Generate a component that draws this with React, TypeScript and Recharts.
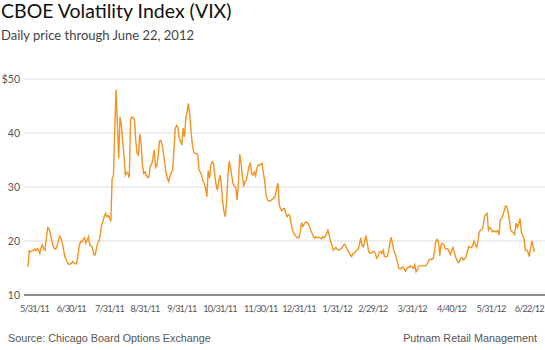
import { LineChart, Line, XAxis, YAxis, CartesianGrid } from 'recharts'

// VIX daily close, in plot order
const junAug11 = [
  15.2, 18.2, 18.0, 18.1, 18.3, 18.5, 18.2, 18.6, 18.3, 17.7, 18.8, 19.3, 18.5, 18.3, 20.5, 22.5,
  22.3, 21.4, 20.2, 19.1, 18.6, 18.5, 19.0, 19.9, 20.9, 20.6, 19.7, 18.5, 17.1, 16.6, 16.0, 15.7,
  15.7, 15.9, 16.2, 15.9, 15.8, 15.8, 17.4, 19.1, 19.9, 19.8, 20.4, 20.6, 19.6, 20.2, 20.8, 19.3,
  19.1, 18.8, 17.5, 17.4, 18.5, 19.6, 20.0, 21.2, 23.0, 23.6, 24.5, 25.1, 24.5,
]
const augSep11 = [
  24.7, 24.3, 23.6, 31.6, 32.0, 40.9, 48.0, 41.5, 35.3, 43.0, 41.5, 38.4, 35.9, 32.2, 32.7, 32.5,
  31.7, 42.4, 43.0, 42.8, 42.4, 38.4, 36.2, 35.9, 39.8, 38.1, 34.1, 32.5, 32.8, 32.2, 31.7, 31.9,
  34.0, 34.1, 35.4, 36.9, 33.6, 34.0, 35.9, 38.5, 38.6, 37.8, 36.2, 34.4, 32.5, 31.6, 31.0, 32.1,
  32.7, 33.1, 37.2, 40.9, 41.4, 41.0, 39.0, 38.4, 37.8, 40.9, 39.3, 42.7, 44.0, 45.5, 43.3, 40.2,
  37.8, 36.5, 36.2, 36.2,
]
const octNov11 = [
  36.0, 33.1, 32.8, 32.2, 31.1, 30.7, 29.8, 28.2, 33.1, 31.6, 34.1, 34.7, 34.4, 32.2, 30.4, 29.4,
  31.0, 32.2, 30.4, 27.3, 25.4, 24.5, 27.3, 32.2, 34.8, 33.5, 31.9, 30.5, 30.1, 29.8, 27.6, 31.0,
  36.1, 34.4, 31.9, 30.1, 31.1, 31.3, 32.5, 33.8, 34.5, 32.5, 32.2, 32.8, 32.1, 33.5, 34.1, 34.0,
  34.2, 34.4, 32.5, 31.0, 28.5, 27.6, 27.4, 27.4, 27.6, 27.8, 28.0, 28.4, 29.8, 30.7, 26.7, 26.0,
  25.6,
]
const decFeb12 = [
  25.9, 26.0, 25.1, 24.5, 24.9, 24.7, 23.3, 22.2, 21.4, 21.1, 20.8, 20.6, 20.6, 21.7, 23.4, 22.7,
  23.1, 23.5, 23.5, 23.2, 22.7, 22.0, 21.4, 20.8, 20.5, 20.8, 20.6, 20.7, 20.6, 20.4, 20.8, 20.6,
  20.8, 21.4, 22.0, 21.1, 19.9, 19.3, 18.3, 18.5, 18.8, 18.5, 18.3, 18.5, 18.5, 18.8, 19.3, 19.4,
  18.8, 18.3, 17.9, 17.4, 17.1, 17.7, 17.7, 18.0, 18.3, 18.5, 19.4, 20.6, 19.1, 18.9, 20.0, 21.0,
]
const marApr12 = [
  19.4, 18.0, 17.7, 17.7, 18.0, 18.1, 17.7, 16.8, 17.1, 17.9, 18.1, 17.7, 18.3, 17.1, 17.1, 17.1,
  18.0, 19.4, 20.7, 19.6, 18.3, 17.7, 16.9, 15.9, 14.9, 14.8, 15.1, 15.2, 14.8, 14.4, 14.9, 15.2,
  15.1, 15.4, 15.2, 14.9, 15.6, 14.3, 14.6, 15.4, 15.4, 15.4, 15.4, 15.4, 15.4, 15.6, 16.0, 16.5,
  16.7, 16.6, 16.8, 18.1, 19.9, 20.3, 20.0, 17.3, 19.3, 19.6, 19.4, 18.6, 18.5, 18.6, 18.1, 17.5,
]
const mayJun12 = [
  18.3, 18.8, 18.0, 17.1, 16.5, 16.0, 16.2, 16.8, 16.9, 16.5, 16.7, 17.1, 18.0, 19.0, 18.8, 18.8,
  19.1, 20.0, 19.4, 18.8, 19.9, 21.7, 22.0, 22.2, 22.7, 24.5, 24.9, 25.1, 22.0, 22.5, 22.3, 21.7,
  21.9, 21.7, 21.7, 21.9, 21.1, 23.9, 24.1, 24.8, 25.6, 26.5, 26.4, 25.3, 23.7, 22.0, 21.7, 21.5,
  21.2, 23.3, 22.5, 23.3, 24.2, 21.7, 21.1, 20.5, 18.3, 18.3, 18.0, 17.1, 18.6, 20.0, 19.0, 18.0,
]

const vix = [...junAug11, ...augSep11, ...octNov11, ...decFeb12, ...marApr12, ...mayJun12]

const xLabels = [
  '5/31/11', '6/30/11', '7/31/11', '8/31/11', '9/31/11', '10/31/11', '11/30/11',
  '12/31/11', '1/31/12', '2/29/12', '3/31/12', '4/40/12', '5/31/12', '6/22/12',
]
// index of the point each date label sits under
const labelIndex = [5, 33, 62, 89, 117, 146, 177, 206, 235, 262, 292, 322, 352, 381]
const yTicks = [10, 20, 30, 40, 50]

const data = vix.map((v, i) => ({ i, v }))

const gotham = 'Lato, "Open Sans", sans-serif'

const DateTick = ({ x, y, payload }: any) => (
  <text
    x={x}
    y={y}
    dy="0.71em"
    textAnchor="middle"
    fill="#555"
    fontSize={9.2}
    fontFamily={gotham}
    letterSpacing={-0.85}
  >
    {xLabels[labelIndex.indexOf(payload.value)]}
  </text>
)

export default function App() {
  return (
    <div style={{ position: 'absolute', left: 0, top: 0, width: 545, height: 350, background: '#fff' }}>
      <div style={{ position: 'absolute', left: 1, top: 0, fontFamily: gotham, fontSize: 19.5, lineHeight: '22px', color: '#111' }}>
        CBOE Volatility Index (VIX)
      </div>
      <div style={{ position: 'absolute', left: 1, top: 27, fontFamily: gotham, fontSize: 13, lineHeight: '16px', color: '#444' }}>
        Daily price through June 22, 2012
      </div>
      <LineChart width={545} height={350} data={data} margin={{ top: 79, right: 0, bottom: 30, left: 0 }}>
        <CartesianGrid vertical={false} stroke="#dcdcdc" />
        <YAxis
          width={24}
          domain={[10, 50]}
          ticks={yTicks}
          tickLine={false}
          axisLine={false}
          tickSize={0}
          tickMargin={4}
          tick={{ fill: '#555', fontSize: 10.5, fontFamily: gotham }}
          tickFormatter={(v) => (v === 50 ? '$50' : String(v))}
        />
        <XAxis
          type="number"
          dataKey="i"
          height={25}
          domain={[-3, 393]}
          ticks={labelIndex}
          interval={0}
          tickLine={false}
          tickSize={0}
          tickMargin={10}
          axisLine={{ stroke: '#6b6b6b', strokeWidth: 1.5 }}
          tick={<DateTick />}
        />
        <Line type="linear" dataKey="v" stroke="#f39320" strokeWidth={1.4} dot={false} isAnimationActive={false} />
      </LineChart>
      <div style={{ position: 'absolute', left: 8, top: 332, fontFamily: '"Liberation Sans", Arial, sans-serif', fontSize: 10.8, color: '#555' }}>
        Source: Chicago Board Options Exchange
      </div>
      <div style={{ position: 'absolute', right: 8, top: 332, fontFamily: '"Liberation Sans", Arial, sans-serif', fontSize: 10.8, color: '#555' }}>
        Putnam Retail Management
      </div>
    </div>
  )
}
